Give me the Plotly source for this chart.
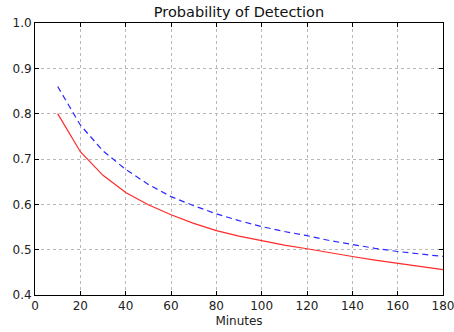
import plotly.graph_objects as go

minutes = [10, 20, 30, 40, 50, 60, 70, 80, 90, 100, 110, 120, 130, 140, 150, 160, 170, 180]
red_vals = [0.800, 0.716, 0.664, 0.626, 0.599, 0.577, 0.558, 0.542, 0.530, 0.520,
            0.510, 0.502, 0.493, 0.485, 0.477, 0.470, 0.463, 0.456]
blue_vals = [0.860, 0.775, 0.718, 0.677, 0.644, 0.617, 0.597, 0.579, 0.564, 0.551,
             0.540, 0.531, 0.520, 0.511, 0.503, 0.496, 0.490, 0.485]
x_ticks = [0, 20, 40, 60, 80, 100, 120, 140, 160, 180]
y_ticks = [0.4, 0.5, 0.6, 0.7, 0.8, 0.9, 1.0]
y_tick_text = ["0.4", "0.5", "0.6", "0.7", "0.8", "0.9", "1.0"]

fig = go.Figure()
fig.add_trace(go.Scatter(x=minutes, y=red_vals, mode="lines",
                         line=dict(color="#ff2a2a", width=1.2), showlegend=False))
fig.add_trace(go.Scatter(x=minutes, y=blue_vals, mode="lines",
                         line=dict(color="#2a2aff", width=1.2, dash="6px,4px"), showlegend=False))

font = "DejaVu Sans"
fig.update_layout(
    width=454, height=332,
    margin=dict(l=35, r=11, t=23, b=37, autoexpand=False),
    paper_bgcolor="white", plot_bgcolor="white",
    font=dict(family=font, size=12, color="#222"),
    title=dict(text="Probability of Detection", x=0.5, xanchor="center",
               xref="paper", y=1 - 12 / 332, yanchor="middle",
               font=dict(size=14.5, color="#111")),
)
axis_common = dict(showline=True, linecolor="black", linewidth=1, mirror="ticks",
                   ticks="inside", ticklen=4, tickcolor="black", tickwidth=1,
                   showgrid=True, gridcolor="#b8b8b8", griddash="dot", gridwidth=1,
                   zeroline=False, automargin=False, ticklabeloverflow="allow",
                   tickfont=dict(size=12, color="#222"))
fig.update_xaxes(range=[0, 180], tickvals=x_ticks, title=dict(text="Minutes", standoff=4,
                 font=dict(size=12, color="#222")), **axis_common)
fig.update_yaxes(range=[0.4, 1.0], tickvals=y_ticks, ticktext=y_tick_text, **axis_common)

fig.write_html("out.html", config={"displayModeBar": False},
               post_script="document.body.style.margin='0';document.body.style.overflow='hidden';")
